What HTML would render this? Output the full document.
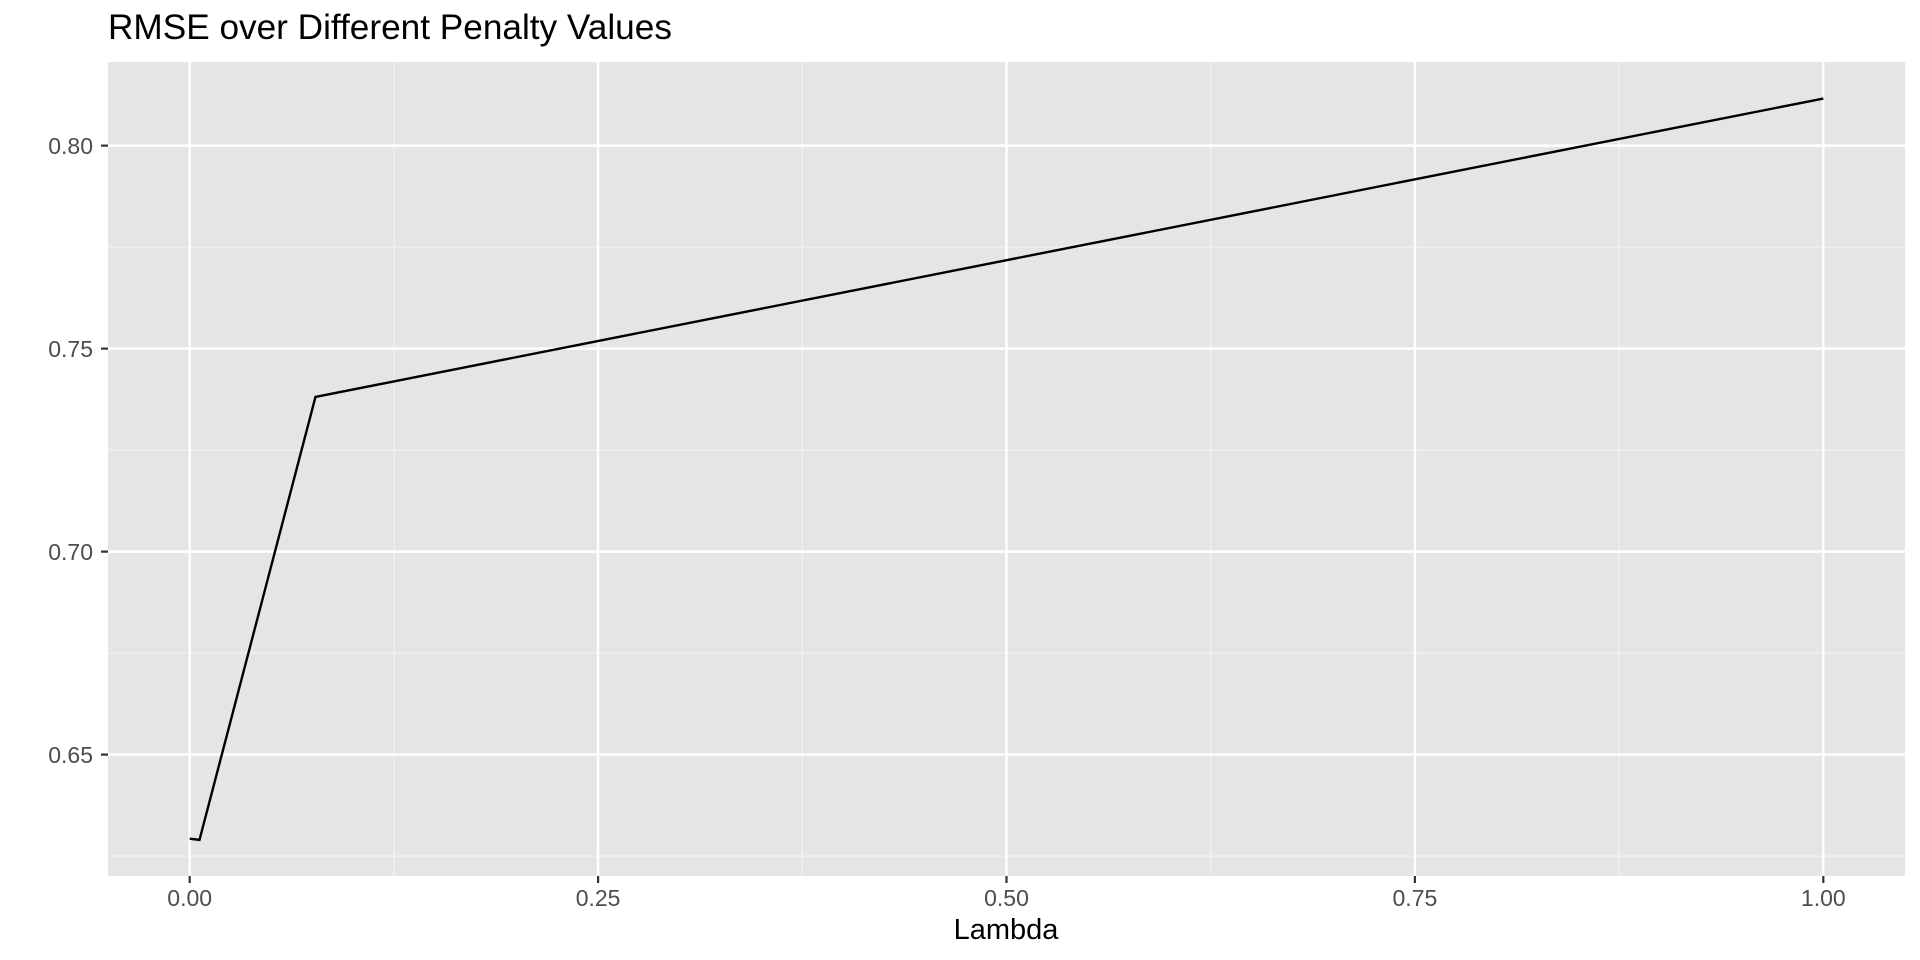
<!DOCTYPE html>
<html><head><meta charset="utf-8"><style>
html,body{margin:0;padding:0;background:#fff;}
svg{display:block;font-family:"Liberation Sans",sans-serif;}
</style></head><body>
<svg id="chart" width="1920" height="960">
<text x="108" y="39" font-size="35.2" fill="#000">RMSE over Different Penalty Values</text>
<rect x="108" y="62" width="1797" height="814" fill="#e5e5e5"/>
<g id="grid"></g>
<g id="axes"></g>
<path id="line" fill="none" stroke="#000" stroke-width="2.4"/>
<text x="1006" y="939" font-size="29" text-anchor="middle" fill="#000">Lambda</text>
</svg>
<script>
const lambdas = [0, 0.006, 0.077, 1];
const rmse = [0.6293, 0.6290, 0.7381, 0.8116];
const xTicks = [0, 0.25, 0.5, 0.75, 1];
const xTickLabels = ["0.00", "0.25", "0.50", "0.75", "1.00"];
const yTicks = [0.65, 0.70, 0.75, 0.80];
const yTickLabels = ["0.65", "0.70", "0.75", "0.80"];

const X0=108, X1=1905, Y0=876, Y1=62;
const xMin=-0.05, xMax=1.05, yMin=0.6201, yMax=0.8206;
const sx = v => X0 + (v-xMin)/(xMax-xMin)*(X1-X0);
const sy = v => Y0 - (v-yMin)/(yMax-yMin)*(Y0-Y1);
const NS="http://www.w3.org/2000/svg";
const grid=document.getElementById('grid'), axes=document.getElementById('axes');
function mk(tag, attrs, parent){const e=document.createElementNS(NS,tag);for(const k in attrs)e.setAttribute(k,attrs[k]);parent.appendChild(e);return e;}
for(let i=0;i<xTicks.length-1;i++){
  const m=(xTicks[i]+xTicks[i+1])/2;
  const l=mk('line',{x1:sx(m),x2:sx(m),y1:Y1,y2:Y0,stroke:'#f2f2f2','stroke-width':1.2},grid);
  
  
}
const yMinor=[yTicks[0]-0.025].concat(yTicks.map(v=>v+0.025));
yMinor.forEach(m=>{
  if(m<yMin||m>yMax) return;
  const l=mk('line',{x1:X0,x2:X1,y1:sy(m),y2:sy(m),stroke:'#f2f2f2','stroke-width':1.2},grid);
  
  
});
xTicks.forEach((v,i)=>{
  const l=mk('line',{x1:sx(v),x2:sx(v),y1:Y1,y2:Y0,stroke:'#fff','stroke-width':2.4},grid);
  
  
  const t=mk('line',{x1:sx(v),x2:sx(v),y1:Y0,y2:Y0+7,stroke:'#333','stroke-width':2.2},axes);
  
  
  const tx=mk('text',{x:sx(v),y:906,'font-size':23,'text-anchor':'middle',fill:'#4d4d4d'},axes);
  tx.textContent=xTickLabels[i];
  
  
});
yTicks.forEach((v,i)=>{
  const l=mk('line',{x1:X0,x2:X1,y1:sy(v),y2:sy(v),stroke:'#fff','stroke-width':2.4},grid);
  
  
  const t=mk('line',{x1:X0-7,x2:X0,y1:sy(v),y2:sy(v),stroke:'#333','stroke-width':2.2},axes);
  
  
  const tx=mk('text',{x:X0-15,y:sy(v)+8.5,'font-size':23,'text-anchor':'end',fill:'#4d4d4d'},axes);
  tx.textContent=yTickLabels[i];
  
  
});
document.getElementById('line').setAttribute('d', lambdas.map((v,i)=>(i?'L':'M')+sx(v)+','+sy(rmse[i])).join(' '));
</script>
</body></html>
